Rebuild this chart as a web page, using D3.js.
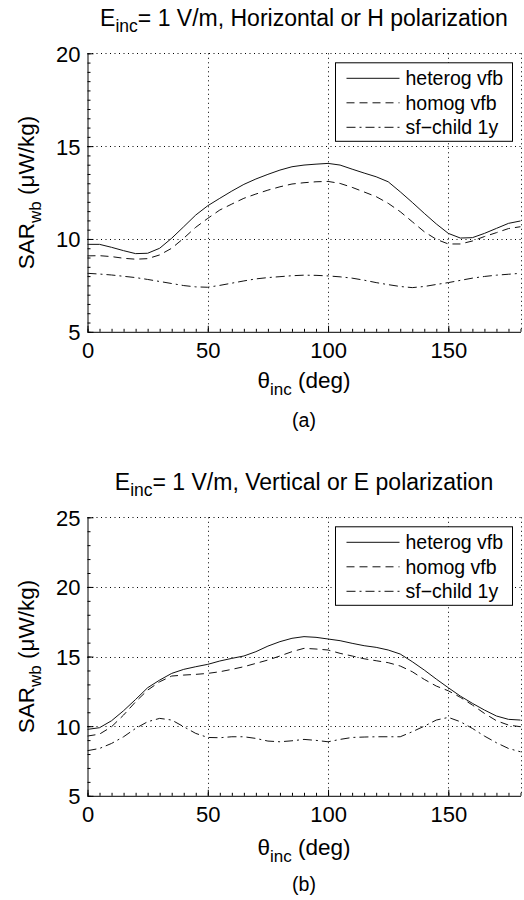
<!DOCTYPE html>
<html>
<head>
<meta charset="utf-8">
<script src="https://cdn.jsdelivr.net/npm/d3@7"></script>
<style>
  html, body { margin: 0; padding: 0; background: #fff; }
  svg text { font-family: "Liberation Sans", Arial, Helvetica, sans-serif; fill: #000; }
</style>
</head>
<body>
<svg id="chart" width="524" height="900"></svg>
<script>
// ---------- DATA ----------
const theta = [0,5,10,15,20,25,30,35,40,45,50,55,60,65,70,75,80,85,90,95,100,105,110,115,120,125,130,135,140,145,150,155,160,165,170,175,180];

const seriesNames = ["heterog vfb", "homog vfb", "sf\u2212child 1y"];

// Panel (a): Horizontal / H polarization
const hHeterog = [9.71,9.71,9.55,9.37,9.21,9.23,9.50,10.04,10.66,11.29,11.79,12.19,12.58,12.94,13.23,13.48,13.71,13.89,13.98,14.03,14.07,13.98,13.76,13.55,13.35,13.08,12.54,11.97,11.38,10.81,10.30,10.05,10.07,10.30,10.57,10.84,10.97];
const hHomog   = [9.09,9.10,9.05,8.96,8.91,8.94,9.14,9.50,10.04,10.63,11.11,11.56,11.88,12.19,12.42,12.63,12.81,12.96,13.03,13.08,13.10,12.99,12.78,12.53,12.28,11.92,11.47,10.93,10.39,9.98,9.73,9.73,9.89,10.13,10.34,10.56,10.66];
const hChild   = [8.15,8.11,8.06,7.99,7.92,7.82,7.71,7.60,7.49,7.42,7.40,7.50,7.62,7.74,7.85,7.92,7.97,8.02,8.05,8.04,8.01,7.96,7.89,7.78,7.65,7.54,7.44,7.38,7.44,7.55,7.65,7.77,7.89,7.98,8.05,8.10,8.15];

// Panel (b): Vertical / E polarization
const vHeterog = [9.77,9.89,10.39,11.11,11.92,12.76,13.31,13.79,14.08,14.27,14.44,14.68,14.87,15.04,15.35,15.75,16.07,16.31,16.43,16.38,16.26,16.14,15.95,15.78,15.66,15.47,15.18,14.63,14.03,13.38,12.76,12.16,11.64,11.16,10.73,10.49,10.44];
const vHomog   = [9.29,9.43,9.96,10.80,11.75,12.59,13.19,13.60,13.67,13.72,13.79,13.91,14.08,14.27,14.51,14.75,15.04,15.35,15.59,15.54,15.47,15.23,15.04,14.84,14.70,14.56,14.32,13.91,13.36,12.88,12.54,12.07,11.52,10.92,10.39,10.08,9.96];
const vChild   = [8.24,8.40,8.76,9.24,9.84,10.32,10.56,10.44,9.96,9.48,9.19,9.17,9.24,9.24,9.12,8.93,8.88,8.95,9.05,8.98,8.88,9.05,9.19,9.22,9.24,9.24,9.24,9.60,10.00,10.44,10.63,10.32,9.84,9.29,8.81,8.40,8.16];

const xTicks = [0, 50, 100, 150];
const xMinorTicks = [0,5,10,15,20,25,30,35,40,45,50,55,60,65,70,75,80,85,90,95,100,105,110,115,120,125,130,135,140,145,150,155,160,165,170,175,180];
const hYTicks = [5, 10, 15, 20];
const hYMinor = [5,5.5,6,6.5,7,7.5,8,8.5,9,9.5,10,10.5,11,11.5,12,12.5,13,13.5,14,14.5,15,15.5,16,16.5,17,17.5,18,18.5,19,19.5,20];
const vYTicks = [5, 10, 15, 20, 25];
const vYMinor = [5,6,7,8,9,10,11,12,13,14,15,16,17,18,19,20,21,22,23,24,25];

const hTitle = "= 1 V/m, Horizontal or H polarization";
const vTitle = "= 1 V/m, Vertical or E polarization";

// ---------- STYLE ----------
const dashStyles = [null, "8,5", "9,4,2,4"];
const svg = d3.select("#chart");

function panel(cfg) {
  const L = 87.5, R = 520.5, T = cfg.top, B = cfg.top + 278.5;
  const x = d3.scaleLinear().domain([0, 180]).range([L, R]);
  const y = d3.scaleLinear().domain(cfg.yDomain).range([B, T]);
  const g = svg.append("g");

  // grid (dotted)
  const grid = g.append("g").attr("stroke", "#000").attr("stroke-width", 1)
    .attr("stroke-dasharray", "1,3.5").attr("fill", "none");
  xTicks.filter(d => d > 0).concat([180]).forEach(d => {
    grid.append("line").attr("x1", Math.round(x(d)) + 0.5).attr("x2", Math.round(x(d)) + 0.5)
      .attr("y1", T).attr("y2", B);
  });
  cfg.yTicks.filter(d => d > cfg.yDomain[0]).forEach(d => {
    grid.append("line").attr("y1", Math.round(y(d)) + 0.5).attr("y2", Math.round(y(d)) + 0.5)
      .attr("x1", L).attr("x2", R);
  });

  // minor ticks
  const xMinorAxis = d3.axisBottom(x).tickValues(xMinorTicks).tickSize(-3).tickFormat("");
  g.append("g").attr("transform", `translate(0,${B})`).call(xMinorAxis)
    .call(s => s.select(".domain").remove());
  const yMinorAxis = d3.axisLeft(y).tickValues(cfg.yMinor).tickSize(-3).tickFormat("");
  g.append("g").attr("transform", `translate(${L},0)`).call(yMinorAxis)
    .call(s => s.select(".domain").remove());

  // major axes
  const xAxis = d3.axisBottom(x).tickValues(xTicks).tickSize(-6).tickSizeOuter(0).tickPadding(10);
  const gx = g.append("g").attr("transform", `translate(0,${B})`).call(xAxis);
  gx.selectAll("text").attr("font-size", 22).attr("dy", "0.72em");
  const yAxis = d3.axisLeft(y).tickValues(cfg.yTicks).tickSize(-6).tickSizeOuter(0).tickPadding(7);
  const gy = g.append("g").attr("transform", `translate(${L},0)`).call(yAxis);
  gy.selectAll("text").attr("font-size", 22).attr("dy", "0.36em");
  g.selectAll(".domain").attr("stroke", "#000");
  g.selectAll(".tick line").attr("stroke", "#000");

  // series
  const line = d3.line().x((d, i) => x(theta[i])).y(d => y(d));
  cfg.series.forEach((s, k) => {
    g.append("path").datum(s).attr("d", line).attr("fill", "none")
      .attr("stroke", "#111").attr("stroke-width", 1)
      .attr("stroke-dasharray", dashStyles[k]);
  });

  // legend
  const lg = g.append("g").attr("transform", `translate(335.5,${T + 9.5})`);
  lg.append("rect").attr("x", 0).attr("y", 0).attr("width", 177).attr("height", 78.5)
    .attr("fill", "#fff").attr("stroke", "#000").attr("stroke-width", 1);
  seriesNames.forEach((n, k) => {
    const cy = 15.5 + k * 24.5;
    lg.append("line").attr("x1", 11).attr("x2", 64).attr("y1", cy).attr("y2", cy)
      .attr("stroke", "#111").attr("stroke-width", 1).attr("stroke-dasharray", dashStyles[k]);
    lg.append("text").attr("x", 70).attr("y", cy + 7).attr("font-size", 19.5).text(n);
  });

  // title
  const tt = g.append("text").attr("x", (L + R) / 2).attr("y", T - 27.5)
    .attr("text-anchor", "middle").attr("font-size", 23);
  tt.append("tspan").text("E");
  tt.append("tspan").attr("font-size", 17.5).attr("dy", 6).text("inc");
  tt.append("tspan").attr("dy", -6).text(cfg.title);

  // x label
  const xl = g.append("text").attr("x", (L + R) / 2).attr("y", B + cfg.xLabelOff)
    .attr("text-anchor", "middle").attr("font-size", 22.5);
  xl.append("tspan").text("\u03b8");
  xl.append("tspan").attr("font-size", 17).attr("dy", 7).text("inc");
  xl.append("tspan").attr("dy", -7).text(" (deg)");

  // y label
  const yl = g.append("text").attr("transform", `translate(34,${(T + B) / 2}) rotate(-90)`)
    .attr("text-anchor", "middle").attr("font-size", 22.5);
  yl.append("tspan").text("SAR");
  yl.append("tspan").attr("font-size", 17).attr("dy", 7).text("wb");
  yl.append("tspan").attr("dy", -7).text(" (\u03bcW/kg)");

  // caption
  g.append("text").attr("x", (L + R) / 2).attr("y", B + 95).attr("text-anchor", "middle")
    .attr("font-size", 19.5).text(cfg.caption);
}

panel({ top: 53.3, yDomain: [5, 20], yTicks: hYTicks, yMinor: hYMinor, title: hTitle,
        series: [hHeterog, hHomog, hChild], caption: "(a)", xLabelOff: 56 });
panel({ top: 517.3, yDomain: [5, 25], yTicks: vYTicks, yMinor: vYMinor, title: vTitle,
        series: [vHeterog, vHomog, vChild], caption: "(b)", xLabelOff: 59 });
</script>
</body>
</html>
